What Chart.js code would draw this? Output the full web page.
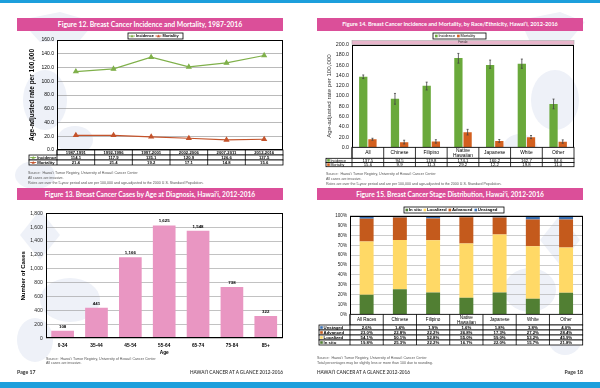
<!DOCTYPE html>
<html><head><meta charset="utf-8">
<script src="https://cdn.jsdelivr.net/npm/chart.js@4.4.0/dist/chart.umd.min.js"></script>
<style>
html,body{margin:0;padding:0;background:#fff;}
#page{position:relative;width:600px;height:388px;overflow:hidden;background:#fff;font-family:Lato,'Open Sans',sans-serif;}
.band{position:absolute;left:0;width:600px;background:#1d9fdc;}
.hdr{position:absolute;background:#db4f99;color:#fff;font-weight:bold;text-align:center;white-space:nowrap;}
.src{position:absolute;font-family:'Liberation Sans',Arial,sans-serif;font-size:3.6px;color:#555;white-space:nowrap;line-height:5.2px;}
.foot{position:absolute;font-weight:bold;color:#333;white-space:nowrap;line-height:8px;}
canvas{position:absolute;}
#deco{position:absolute;left:0;top:0;}
</style></head>
<body>
<div id="page">
  <svg id="deco" width="600" height="388">
    <g fill="#eef1f8">
      <path d="M20 20 L60 12 L95 22 L80 40 L40 42 Z"/>
      <ellipse cx="45" cy="100" rx="22" ry="30"/>
      <ellipse cx="75" cy="140" rx="18" ry="14"/>
      <ellipse cx="35" cy="175" rx="20" ry="14"/>
      <path d="M40 210 L60 235 L40 260 L20 235 Z"/>
      <ellipse cx="70" cy="300" rx="30" ry="22"/>
      <ellipse cx="35" cy="340" rx="18" ry="22"/>
      <path d="M520 20 L560 12 L585 22 L570 40 L530 42 Z"/>
      <ellipse cx="555" cy="100" rx="24" ry="30"/>
      <ellipse cx="520" cy="150" rx="18" ry="16"/>
      <path d="M560 215 L580 240 L560 265 L540 240 Z"/>
      <ellipse cx="530" cy="290" rx="26" ry="22"/>
      <ellipse cx="565" cy="335" rx="18" ry="20"/>
    </g>
  </svg>
  <div class="band" style="top:0;height:3px;"></div>
  <div class="band" style="top:382px;height:6px;"></div>

  <div class="hdr" style="left:17px;top:18px;width:266px;height:13px;line-height:13px;font-size:6.8px;">Figure 12. Breast Cancer Incidence and Mortality, 1987-2016</div>
  <div class="hdr" style="left:317px;top:18px;width:266px;height:13px;line-height:13px;font-size:5.5px;">Figure 14. Breast Cancer Incidence and Mortality, by Race/Ethnicity, Hawai‘i, 2012-2016</div>
  <div class="hdr" style="left:17px;top:188px;width:266px;height:12px;line-height:12px;font-size:6.6px;">Figure 13. Breast Cancer Cases by Age at Diagnosis, Hawai‘i, 2012-2016</div>
  <div class="hdr" style="left:317px;top:188px;width:266px;height:12px;line-height:12px;font-size:6.6px;">Figure 15. Breast Cancer Stage Distribution, Hawai‘i, 2012-2016</div>

  <canvas id="c12" width="300" height="142" style="left:0;top:30px;"></canvas>
  <canvas id="c14" width="300" height="142" style="left:300px;top:30px;"></canvas>
  <canvas id="c13" width="300" height="158" style="left:0;top:200px;"></canvas>
  <canvas id="c15" width="300" height="150" style="left:300px;top:200px;"></canvas>

  <div class="src" style="left:28px;top:171px;">Source:&nbsp; Hawai‘i Tumor Registry, University of Hawai‘i Cancer Center<br>All cases are invasive.<br>Rates are over the 5-year period and are per 100,000 and age-adjusted to the 2000 U.S. Standard Population.</div>
  <div class="src" style="left:326px;top:172px;">Source:&nbsp; Hawai‘i Tumor Registry, University of Hawai‘i Cancer Center<br>All cases are invasive.<br>Rates are over the 5-year period and are per 100,000 and age-adjusted to the 2000 U.S. Standard Population.</div>
  <div class="src" style="left:46px;top:357px;line-height:4.4px;">Source:&nbsp; Hawai‘i Tumor Registry, University of Hawai‘i Cancer Center<br>All cases are invasive.</div>
  <div class="src" style="left:317px;top:356px;">Source:&nbsp; Hawai‘i Tumor Registry, University of Hawai‘i Cancer Center<br>Total percentages may be slightly less or more than 100 due to rounding.</div>

  <div class="foot" style="left:17px;top:368px;font-size:5.2px;">Page 17</div>
  <div class="foot" style="right:317px;top:368px;font-size:4.7px;font-weight:600;">HAWAI‘I CANCER AT A GLANCE 2012-2016</div>
  <div class="foot" style="left:317px;top:368px;font-size:4.7px;font-weight:600;">HAWAI‘I CANCER AT A GLANCE 2012-2016</div>
  <div class="foot" style="right:17px;top:368px;font-size:5.2px;">Page 18</div>
</div>
<script>
// ---------- DATA ----------
const periods = ['1987-1991','1992-1996','1997-2001','2002-2006','2007-2011','2012-2016'];
const incidence12 = [114.1,117.9,135.1,120.9,126.6,137.5];
const mortality12 = [21.4,21.4,19.2,17.1,14.8,15.6];
const ticks12 = [0,20,40,60,80,100,120,140,160];

const races14 = ['All','Chinese','Filipino',['Native','Hawaiian'],'Japanese','White','Other'];
const incidence14 = [137.5,94.5,119.8,174.1,160.2,162.7,84.6];
const mortality14 = [15.6,9.9,11.3,29.2,12.2,19.8,11.0];
const incidenceLow14 = [134.0,84.0,111.7,164.0,154.0,154.0,75.0];
const incidenceHigh14 = [141.0,105.0,127.0,183.0,170.0,172.0,94.0];
const mortalityLow14 = [13.8,6.5,8.2,24.0,9.6,17.0,8.0];
const mortalityHigh14 = [17.6,13.8,14.8,35.0,15.2,23.0,14.5];
const ticks14 = [0,20,40,60,80,100,120,140,160,180,200];

const ageGroups = ['0-34','35-44','45-54','55-64','65-74','75-84','85+'];
const cases13 = [108,441,1166,1625,1548,738,322];
const ticks13 = [0,200,400,600,800,1000,1200,1400,1600,1800];

const races15 = ['All Races','Chinese','Filipino',['Native','Hawaiian'],'Japanese','White','Other'];
const inSitu15 = [19.8,25.3,22.2,16.7,22.0,15.7,21.8];
const localized15 = [54.1,50.1,52.8,55.0,59.0,53.2,45.9];
const advanced15 = [23.0,22.8,22.2,26.8,17.3,27.2,28.4];
const unstaged15 = [2.6,1.4,1.9,1.6,1.8,3.8,4.0];
const ticks15 = [0,10,20,30,40,50,60,70,80,90,100];

// ---------- STYLE ----------
const FF = "'Liberation Sans', Arial, sans-serif";
const G12='#7fb04a', O12='#c4532b';
const G14='#6aa93b', O14='#d3601f';
const PINK='#e996c2';
const C_INSITU='#517f33', C_LOC='#ffd966', C_ADV='#c45a1c', C_UNST='#3b70b2';

Chart.defaults.font.family = FF;
Chart.defaults.color = '#000';
Chart.defaults.animation = false;
Chart.defaults.responsive = false;
Chart.defaults.maintainAspectRatio = false;
Chart.defaults.devicePixelRatio = 1;
Chart.defaults.plugins.legend.display = false;
Chart.defaults.plugins.tooltip.enabled = false;

function tri(ctx,x,y,r){ctx.beginPath();ctx.moveTo(x,y-r);ctx.lineTo(x+r,y+r*0.8);ctx.lineTo(x-r,y+r*0.8);ctx.closePath();ctx.fill();}
function marker(ctx,type,color,x,y){
  ctx.save();ctx.fillStyle=color;ctx.strokeStyle=color;
  let w;
  if(type==='tri'){ctx.lineWidth=0.9;ctx.beginPath();ctx.moveTo(x,y);ctx.lineTo(x+6,y);ctx.stroke();tri(ctx,x+3,y,1.5);w=7;}
  else{ctx.fillRect(x,y-1.3,2.6,2.6);w=3.4;}
  ctx.restore();return w;
}
const framePlugin={id:'frame',afterDraw(c){const a=c.chartArea,x=c.ctx;x.save();x.strokeStyle='#000';x.lineWidth=1;
  x.strokeRect(Math.round(a.left)+0.5,Math.round(a.top)+0.5,Math.round(a.right-a.left)-1,Math.round(a.bottom-a.top)-1);x.restore();}};

function tablePlugin(spec){return {id:'table',afterDraw(chart){
  const ctx=chart.ctx,xs=chart.scales.x,a=chart.chartArea;
  const n=xs.getLabels().length;
  const half=(xs.getPixelForValue(1)-xs.getPixelForValue(0))/2;
  let y=a.bottom;
  ctx.save();ctx.lineWidth=0.8;ctx.strokeStyle='#000';ctx.textBaseline='middle';
  spec.rows.forEach(r=>{
    const x0=r.label===null?a.left:spec.left;
    ctx.fillStyle='#fff';ctx.fillRect(x0,y,a.right-x0,r.h);
    ctx.strokeRect(x0,y,a.right-x0,r.h);
    ctx.fillStyle='#000';ctx.font=r.font;ctx.textAlign='center';
    for(let i=0;i<n;i++){
      const cx=xs.getPixelForValue(i);
      ctx.beginPath();ctx.moveTo(cx-half,y);ctx.lineTo(cx-half,y+r.h);ctx.stroke();
      const t=r.cells[i];const lines=Array.isArray(t)?t:[t];
      lines.forEach((s,k)=>ctx.fillText(s,cx,y+r.h/2+0.3+(k-(lines.length-1)/2)*(r.lh||5)));
    }
    if(r.label!==null){
      const w=marker(ctx,r.marker,r.color,x0+1.2,y+r.h/2);
      ctx.fillStyle='#000';ctx.textAlign='left';ctx.font=r.lfont||r.font;
      ctx.fillText(r.label,x0+1.2+w,y+r.h/2+0.3);
    }
    y+=r.h;
  });
  ctx.restore();
}};}

function legendPlugin(spec){return {id:'lg',afterDraw(chart){
  const ctx=chart.ctx;ctx.save();
  ctx.fillStyle='#fff';ctx.fillRect(spec.x,spec.y,spec.w,spec.h);
  ctx.strokeStyle='#000';ctx.lineWidth=0.8;ctx.strokeRect(spec.x,spec.y,spec.w,spec.h);
  ctx.font=spec.font;ctx.textBaseline='middle';ctx.textAlign='left';
  let x=spec.x+spec.pad;const cy=spec.y+spec.h/2;
  spec.items.forEach(it=>{
    x+=marker(ctx,spec.marker,it.color,x,cy);
    ctx.fillStyle='#000';ctx.fillText(it.text,x,cy+0.3);
    x+=ctx.measureText(it.text).width+spec.gap;
  });
  ctx.restore();
}};}

function setTicks(arr){return s=>{s.ticks=arr.map(v=>({value:v}));};}

// ---------- FIGURE 12 ----------
new Chart(document.getElementById('c12'),{
  type:'line',
  data:{labels:periods,datasets:[
    {label:'Incidence',data:incidence12,borderColor:G12,backgroundColor:G12,borderWidth:1.2,pointStyle:'triangle',pointRadius:2.4,tension:0},
    {label:'Mortality',data:mortality12,borderColor:O12,backgroundColor:O12,borderWidth:1.2,pointStyle:'triangle',pointRadius:2.4,tension:0}
  ]},
  options:{
    layout:{padding:{left:28,top:10,right:17,bottom:0}},
    scales:{
      x:{offset:true,ticks:{display:false},grid:{display:false,drawTicks:false},border:{display:false},afterFit:s=>{s.height=22;}},
      y:{min:0,max:160,afterBuildTicks:setTicks(ticks12),afterFit:s=>{s.width=29;},
        ticks:{font:{size:5},padding:3,callback:v=>v.toFixed(1)},
        grid:{color:'#8c8c8c',lineWidth:0.6,drawTicks:false},border:{display:false},
        title:{display:true,text:'Age-adjusted rate per 100,000',font:{size:6.5,weight:'bold'},padding:0}}
    }
  },
  plugins:[framePlugin,
    legendPlugin({x:128,y:3,w:55,h:6,pad:1,gap:1.5,marker:'tri',font:'bold 3.9px '+FF,items:[{text:'Incidence',color:G12},{text:'Mortality',color:O12}]}),
    tablePlugin({left:29,rows:[
      {label:null,h:5,font:'bold 4.2px '+FF,cells:periods},
      {label:'Incidence',marker:'tri',color:G12,h:5,font:'bold 4.2px '+FF,cells:incidence12.map(v=>v.toFixed(1))},
      {label:'Mortality',marker:'tri',color:O12,h:5,font:'bold 4.2px '+FF,cells:mortality12.map(v=>v.toFixed(1))}
    ]})]
});

// ---------- FIGURE 14 ----------
const errPlugin={id:'err',afterDatasetsDraw(chart){
  const ctx=chart.ctx,ys=chart.scales.y;const lows=[incidenceLow14,mortalityLow14],highs=[incidenceHigh14,mortalityHigh14];
  ctx.save();ctx.strokeStyle='#444';ctx.lineWidth=0.8;
  [0,1].forEach(d=>{chart.getDatasetMeta(d).data.forEach((el,i)=>{
    const yl=ys.getPixelForValue(lows[d][i]),yh=ys.getPixelForValue(highs[d][i]);
    ctx.beginPath();ctx.moveTo(el.x,yl);ctx.lineTo(el.x,yh);
    ctx.moveTo(el.x-1,yl);ctx.lineTo(el.x+1,yl);ctx.moveTo(el.x-1,yh);ctx.lineTo(el.x+1,yh);ctx.stroke();
  });});
  ctx.restore();
}};
const femalePlugin={id:'female',afterDraw(chart){
  const a=chart.chartArea,ctx=chart.ctx;ctx.save();
  ctx.fillStyle='#e8b5cb';ctx.fillRect(a.left,a.top-4,a.right-a.left,4);
  ctx.strokeStyle='#999';ctx.lineWidth=0.5;ctx.strokeRect(a.left,a.top-4,a.right-a.left,4);
  ctx.fillStyle='#333';ctx.font='2.8px '+FF;ctx.textAlign='center';ctx.textBaseline='middle';
  ctx.fillText('Female',(a.left+a.right)/2,a.top-2);ctx.restore();
}};
new Chart(document.getElementById('c14'),{
  type:'bar',
  data:{labels:races14,datasets:[
    {label:'Incidence',data:incidence14,backgroundColor:G14,categoryPercentage:0.58,barPercentage:0.9},
    {label:'Mortality',data:mortality14,backgroundColor:O14,categoryPercentage:0.58,barPercentage:0.9}
  ]},
  options:{
    layout:{padding:{left:25.4,top:14.7,right:26,bottom:0}},
    scales:{
      x:{ticks:{display:false},grid:{display:false,drawTicks:false},border:{display:false},afterFit:s=>{s.height=24.7;}},
      y:{min:0,max:200,afterBuildTicks:setTicks(ticks14),afterFit:s=>{s.width=26.6;},
        ticks:{font:{size:5.3},color:'#222',padding:3,callback:v=>v.toFixed(1)},
        grid:{display:false,drawTicks:false},border:{display:false},
        title:{display:true,text:'Age-adjusted rate per 100,000',color:'#333',font:{size:6.2},padding:0}}
    }
  },
  plugins:[errPlugin,framePlugin,femalePlugin,
    legendPlugin({x:133,y:3,w:53,h:6,pad:2,gap:2,marker:'sq',font:'3.9px '+FF,items:[{text:'Incidence',color:G14},{text:'Mortality',color:O14}]}),
    tablePlugin({left:26,rows:[
      {label:null,h:11,lh:4.8,font:'4.9px '+FF,cells:races14},
      {label:'Incidence',marker:'sq',color:G14,h:4.2,font:'4.3px '+FF,lfont:'3.6px '+FF,cells:incidence14.map(v=>v.toFixed(1))},
      {label:'Mortality',marker:'sq',color:O14,h:4.2,font:'4.3px '+FF,lfont:'3.6px '+FF,cells:mortality14.map(v=>v.toFixed(1))}
    ]})]
});

// ---------- FIGURE 13 ----------
const valueLabels={id:'vl',afterDatasetsDraw(chart){
  const ctx=chart.ctx;ctx.save();ctx.font='bold 4.4px '+FF;ctx.fillStyle='#000';ctx.textAlign='center';ctx.textBaseline='bottom';
  chart.getDatasetMeta(0).data.forEach((el,i)=>ctx.fillText(cases13[i].toLocaleString('en-US'),el.x,el.y-2));
  ctx.restore();
}};
new Chart(document.getElementById('c13'),{
  type:'bar',
  data:{labels:ageGroups,datasets:[{label:'Cases',data:cases13,backgroundColor:PINK,categoryPercentage:0.67,barPercentage:1}]},
  options:{
    layout:{padding:{left:19.4,top:13.3,right:17.3,bottom:0}},
    scales:{
      x:{ticks:{font:{size:4.8,weight:'bold'},padding:4,maxRotation:0},grid:{display:false,drawTicks:false},border:{display:false},
        title:{display:true,text:'Age',font:{size:4.8,weight:'bold'},padding:{top:0,bottom:2.3}},afterFit:s=>{s.height=19.7;}},
      y:{min:0,max:1800,afterBuildTicks:setTicks(ticks13),afterFit:s=>{s.width=26.3;},
        ticks:{font:{size:5},color:'#222',padding:3,callback:v=>v.toLocaleString('en-US')},
        grid:{color:'#999',lineWidth:0.6,drawTicks:false},border:{display:false},
        title:{display:true,text:'Number of Cases',font:{size:6,weight:'bold'},padding:0}}
    }
  },
  plugins:[framePlugin,valueLabels]
});

// ---------- FIGURE 15 ----------
new Chart(document.getElementById('c15'),{
  type:'bar',
  data:{labels:races15,datasets:[
    {label:'In situ',data:inSitu15,backgroundColor:C_INSITU},
    {label:'Localized',data:localized15,backgroundColor:C_LOC},
    {label:'Advanced',data:advanced15,backgroundColor:C_ADV},
    {label:'Unstaged',data:unstaged15,backgroundColor:C_UNST}
  ]},
  options:{
    datasets:{bar:{categoryPercentage:0.42,barPercentage:1}},
    layout:{padding:{left:0,top:15.7,right:17.3,bottom:0}},
    scales:{
      x:{stacked:true,ticks:{display:false},grid:{display:false,drawTicks:false},border:{display:false},afterFit:s=>{s.height=35.7;}},
      y:{stacked:true,min:0,max:100,afterBuildTicks:setTicks(ticks15),afterFit:s=>{s.width=50;},
        ticks:{font:{size:4.6},color:'#222',padding:3,callback:v=>v+'%'},
        grid:{color:'#aaa',lineWidth:0.6,drawTicks:false},border:{display:false}}
    }
  },
  plugins:[framePlugin,
    legendPlugin({x:104,y:7,w:100,h:6,pad:1.5,gap:2,marker:'sq',font:'bold 4.3px '+FF,items:[{text:'In situ',color:C_INSITU},{text:'Localized',color:C_LOC},{text:'Advanced',color:C_ADV},{text:'Unstaged',color:C_UNST}]}),
    tablePlugin({left:19,rows:[
      {label:null,h:10.7,lh:4.6,font:'4.6px '+FF,cells:races15},
      {label:'Unstaged',marker:'sq',color:C_UNST,h:5,font:'bold 4.3px '+FF,cells:unstaged15.map(v=>v.toFixed(1)+'%')},
      {label:'Advanced',marker:'sq',color:C_ADV,h:5,font:'bold 4.3px '+FF,cells:advanced15.map(v=>v.toFixed(1)+'%')},
      {label:'Localized',marker:'sq',color:C_LOC,h:5,font:'bold 4.3px '+FF,cells:localized15.map(v=>v.toFixed(1)+'%')},
      {label:'In situ',marker:'sq',color:C_INSITU,h:5,font:'bold 4.3px '+FF,cells:inSitu15.map(v=>v.toFixed(1)+'%')}
    ]})]
});
</script>
</body></html>
